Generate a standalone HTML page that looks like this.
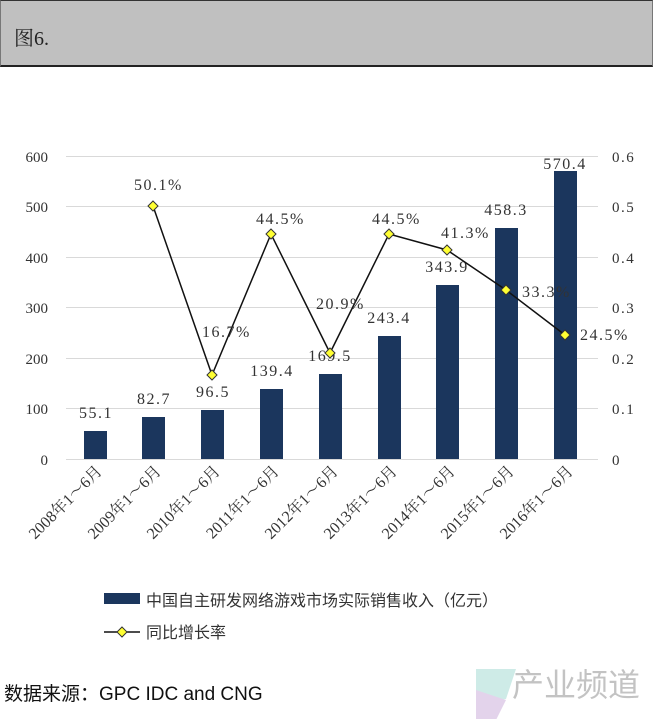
<!DOCTYPE html>
<html><head><meta charset="utf-8"><style>
body{margin:0;width:653px;height:719px;background:#fff;overflow:hidden;position:relative}
.hdr{position:absolute;left:0;top:0;width:651px;height:64px;background:#c0c0c0;border-top:1px solid #333;border-bottom:2px solid #222;border-left:1px solid #777;border-right:1px solid #777}
.hdr span{position:absolute;left:13px;top:21px;font:20px "Liberation Serif","Noto Serif CJK SC",serif;color:#222}
svg{position:absolute;left:0;top:0}
</style></head><body>
<div class="hdr"><span>图6.</span></div>
<svg width="653" height="719" xmlns="http://www.w3.org/2000/svg">
<g stroke="#d9d9d9" stroke-width="1">
<line x1="66" x2="598" y1="156.5" y2="156.5"/><line x1="66" x2="598" y1="206.5" y2="206.5"/>
<line x1="66" x2="598" y1="257.5" y2="257.5"/><line x1="66" x2="598" y1="307.5" y2="307.5"/>
<line x1="66" x2="598" y1="358.5" y2="358.5"/><line x1="66" x2="598" y1="408.5" y2="408.5"/>
<line x1="66" x2="598" y1="459.5" y2="459.5"/>
</g>
<g font-family="Liberation Serif, serif" font-size="15" fill="#333" text-anchor="end">
<text x="48" y="162">600</text><text x="48" y="212">500</text><text x="48" y="263">400</text>
<text x="48" y="313">300</text><text x="48" y="364">200</text><text x="48" y="414">100</text><text x="48" y="465">0</text>
</g>
<g font-family="Liberation Serif, serif" font-size="15" fill="#333" letter-spacing="1.5">
<text x="612" y="162">0.6</text><text x="612" y="212">0.5</text><text x="612" y="263">0.4</text>
<text x="612" y="313">0.3</text><text x="612" y="364">0.2</text><text x="612" y="414">0.1</text><text x="612" y="465">0</text>
</g>
<g fill="#1b365d">
<rect x="84" y="431" width="23" height="28"/>
<rect x="142" y="417" width="23" height="42"/>
<rect x="201" y="410" width="23" height="49"/>
<rect x="260" y="389" width="23" height="70"/>
<rect x="319" y="374" width="23" height="85"/>
<rect x="378" y="336" width="23" height="123"/>
<rect x="436" y="285" width="23" height="174"/>
<rect x="495" y="228" width="23" height="231"/>
<rect x="554" y="171" width="23" height="288"/>
</g>
<g font-family="Liberation Serif, serif" font-size="16" fill="#333" text-anchor="middle" letter-spacing="1.5">
<text x="96" y="418">55.1</text><text x="154" y="404">82.7</text><text x="213" y="397">96.5</text>
<text x="272" y="376">139.4</text><text x="330" y="361">169.5</text><text x="389" y="323">243.4</text>
<text x="447" y="272">343.9</text><text x="506" y="215">458.3</text><text x="565" y="169">570.4</text>
</g>
<polyline fill="none" stroke="#111" stroke-width="1.5" points="153,206 212,375 271,234 330,353 389,234 447,250 506,290 565,335"/>
<g fill="#ffff33" stroke="#333" stroke-width="1">
<path d="M153,201 l5,5 -5,5 -5,-5z"/><path d="M212,370 l5,5 -5,5 -5,-5z"/><path d="M271,229 l5,5 -5,5 -5,-5z"/>
<path d="M330,348 l5,5 -5,5 -5,-5z"/><path d="M389,229 l5,5 -5,5 -5,-5z"/><path d="M447,245 l5,5 -5,5 -5,-5z"/>
<path d="M506,285 l5,5 -5,5 -5,-5z"/><path d="M565,330 l5,5 -5,5 -5,-5z"/>
</g>
<g font-family="Liberation Serif, serif" font-size="16" fill="#333" letter-spacing="1.5">
<text x="134" y="190">50.1%</text><text x="202" y="337">16.7%</text><text x="256" y="224">44.5%</text>
<text x="316" y="309">20.9%</text><text x="372" y="224">44.5%</text><text x="441" y="238">41.3%</text>
<text x="522" y="297">33.3%</text><text x="580" y="340">24.5%</text>
</g>
<g font-family="Liberation Serif, Noto Serif CJK SC, serif" font-size="16" fill="#333" text-anchor="end">
<text transform="translate(103,472) rotate(-45)">2008年1～6月</text>
<text transform="translate(162,472) rotate(-45)">2009年1～6月</text>
<text transform="translate(221,472) rotate(-45)">2010年1～6月</text>
<text transform="translate(280,472) rotate(-45)">2011年1～6月</text>
<text transform="translate(339,472) rotate(-45)">2012年1～6月</text>
<text transform="translate(398,472) rotate(-45)">2013年1～6月</text>
<text transform="translate(456,472) rotate(-45)">2014年1～6月</text>
<text transform="translate(515,472) rotate(-45)">2015年1～6月</text>
<text transform="translate(574,472) rotate(-45)">2016年1～6月</text>
</g>
<rect x="104" y="593" width="36" height="11" fill="#1b365d"/>
<text x="146" y="606" font-family="Liberation Sans, Noto Sans CJK SC, sans-serif" font-size="16" fill="#333">中国自主研发网络游戏市场实际销售收入（亿元）</text>
<line x1="104" y1="632" x2="140" y2="632" stroke="#111" stroke-width="1.5"/>
<path d="M122,627 l5,5 -5,5 -5,-5z" fill="#ffff33" stroke="#333"/>
<text x="146" y="638" font-family="Liberation Sans, Noto Sans CJK SC, sans-serif" font-size="16" fill="#333">同比增长率</text>
<text x="4" y="700" font-family="Liberation Sans, Noto Sans CJK SC, sans-serif" font-size="19" fill="#111">数据来源：GPC IDC and CNG</text>
<g opacity="0.5">
<path d="M476,669 h40 l-10,30 -30,4z" fill="#9fd8d0"/>
<path d="M476,690 l30,10 -10,20 -20,0z" fill="#c8a8d8"/>
<text x="512" y="696" font-family="Liberation Sans, Noto Sans CJK SC, sans-serif" font-size="32" fill="#888">产业频道</text>
</g>
</svg>
</body></html>
